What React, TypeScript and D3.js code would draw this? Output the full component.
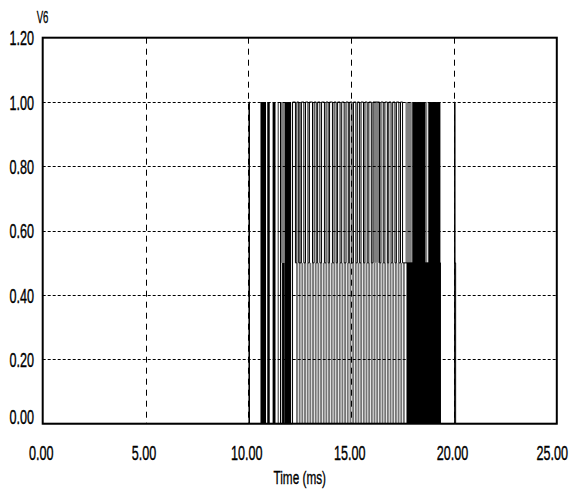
import React from 'react';
import * as d3 from 'd3';

const W = 569;
const H = 499;

const seriesName = 'V6';
const xTitle = 'Time (ms)';
const xTicks = [0, 5, 10, 15, 20, 25];
const yTicks = [0, 0.2, 0.4, 0.6, 0.8, 1.0, 1.2];

// Switching bursts too fast to resolve on this time scale: [start ms, end ms, peak V]
const solidBursts: [number, number, number][] = [
  [10.59, 10.86, 1],
  [10.92, 11.04, 1],
  [11.18, 11.32, 1],
  [11.43, 11.47, 1],
  [11.54, 11.60, 1],
  [11.64, 11.77, 0.5],
  [11.77, 12.08, 1],
  [17.69, 19.34, 0.5],
  [17.97, 18.62, 1],
  [18.75, 19.34, 1],
];

// Lower-duty switching bursts: [start ms, end ms, low V, high V]
const partialBursts: [number, number, number, number][] = [
  [11.60, 11.77, 0.5, 1],
  [12.45, 12.57, 0.5, 1],
  [16.08, 16.36, 0.5, 1],
  [17.64, 17.95, 0.5, 1],
  [18.64, 18.70, 0.5, 1],
];

// Carrier pulses between 0 and 0.5 V: [on ms, off ms]
const carrierPulses: [number, number][] = [
  [12.32, 12.41], [12.45, 12.54], [12.58, 12.67], [12.71, 12.80], [12.84, 12.93],
  [12.97, 13.06], [13.10, 13.19], [13.23, 13.32], [13.36, 13.45], [13.49, 13.58],
  [13.62, 13.71], [13.75, 13.84], [13.88, 13.97], [14.01, 14.10], [14.14, 14.23],
  [14.27, 14.36], [14.40, 14.49], [14.53, 14.62], [14.66, 14.75], [14.79, 14.88],
  [14.92, 15.01], [15.05, 15.14], [15.18, 15.27], [15.31, 15.40], [15.44, 15.53],
  [15.57, 15.66], [15.70, 15.79], [15.83, 15.92], [15.96, 16.05], [16.09, 16.18],
  [16.22, 16.31], [16.35, 16.44], [16.48, 16.57], [16.61, 16.70], [16.74, 16.83],
  [16.87, 16.96], [17.00, 17.09], [17.13, 17.22], [17.26, 17.35], [17.39, 17.48],
  [17.52, 17.61],
];

// Envelope of V6 as a step trace: [time ms, V]
const v6Trace: [number, number][] = [
  [0, 0], [10.03, 1], [10.055, 0],
  [12.15, 1], [12.29, 0.5], [12.36, 1], [12.45, 0.5], [12.58, 1], [12.70, 0.5],
  [12.78, 1], [12.90, 0.5], [12.97, 1], [13.12, 0.5], [13.20, 1], [13.30, 0.5],
  [13.37, 1], [13.48, 0.5], [13.56, 1], [13.70, 0.5], [13.78, 1], [13.88, 0.5],
  [13.95, 1], [14.09, 0.5], [14.17, 1], [14.27, 0.5], [14.34, 1], [14.46, 0.5],
  [14.54, 1], [14.66, 0.5], [14.75, 1], [14.86, 0.5], [14.93, 1], [15.04, 0.5],
  [15.11, 1], [15.23, 0.5], [15.30, 1], [15.40, 0.5], [15.48, 1], [15.60, 0.5],
  [15.67, 1], [15.78, 0.5], [15.86, 1], [15.98, 0.5], [16.06, 1], [16.38, 0.5],
  [16.45, 1], [16.56, 0.5], [16.64, 1], [16.76, 0.5], [16.83, 1], [16.94, 0.5],
  [17.02, 1], [17.13, 0.5], [17.20, 1], [17.32, 0.5], [17.40, 1], [17.50, 0.5],
  [19.34, 0],
  [20.03, 1], [20.05, 0.5], [20.08, 0], [25, 0],
];

const FONT = 'Liberation Sans, Arial, sans-serif';

export default function App() {
  const x = d3.scaleLinear().domain([0, 25]).range([42.7, 556.8]);
  const y = d3.scaleLinear().domain([0, 1.2]).range([423.7, 37.7]);
  const [x0, x1] = x.range();
  const [yb, yt] = y.range();

  const line = d3
    .line<[number, number]>()
    .x((d) => x(d[0]))
    .y((d) => y(d[1]))
    .curve(d3.curveStepAfter);

  const fmt = d3.format('.2f');

  return (
    <svg
      width={W}
      height={H}
      viewBox={`0 0 ${W} ${H}`}
      style={{ position: 'fixed', left: 0, top: 0, background: '#fff' }}
    >
      <rect x={0} y={0} width={W} height={H} fill="#fff" />

      {/* carrier switching between 0 and 0.5 V */}
      <g fill="#767676">
        {carrierPulses.map(([a, b], i) => (
          <rect key={i} x={x(a)} width={x(b) - x(a)} y={y(0.5)} height={y(0) - y(0.5)} />
        ))}
      </g>

      <g fill="#808080">
        {partialBursts.map(([a, b, lo, hi], i) => (
          <rect key={i} x={x(a)} width={x(b) - x(a)} y={y(hi)} height={y(lo) - y(hi)} />
        ))}
      </g>

      <g fill="#000">
        {solidBursts.map(([a, b, v], i) => (
          <rect key={i} x={x(a)} width={x(b) - x(a)} y={y(v)} height={y(0) - y(v)} />
        ))}
      </g>

      <path d={line(v6Trace) ?? ''} fill="none" stroke="#000" strokeWidth={1} />

      {/* grid */}
      <g stroke="#000" strokeWidth={1}>
        {yTicks
          .filter((v) => v > 0 && v < 1.2)
          .map((v) => (
            <line key={v} x1={x0} x2={x1} y1={Math.round(y(v)) + 0.5} y2={Math.round(y(v)) + 0.5} strokeDasharray="3,2" />
          ))}
        {xTicks
          .filter((t) => t > 0 && t < 25)
          .map((t) => (
            <line key={t} x1={Math.round(x(t)) + 0.5} x2={Math.round(x(t)) + 0.5} y1={yt} y2={yb} strokeDasharray="6,5" />
          ))}
      </g>

      {/* frame */}
      <rect x={x0} y={yt} width={x1 - x0} height={yb - yt} fill="none" stroke="#000" strokeWidth={2} />

      {/* tick labels */}
      <g fontFamily={FONT} fontSize={21} fill="#000" stroke="#000" strokeWidth={0.4}>
        {yTicks.map((v) => {
          const cy = Math.min(y(v), yb - 7);
          return (
            <g key={v} transform={`translate(34, ${cy + 7.5}) scale(0.6, 1)`}>
              <text textAnchor="end">{fmt(v)}</text>
            </g>
          );
        })}
        {xTicks.map((t) => {
          const label = fmt(t);
          const cx = x(t) - 1.5;
          const half = label.length * 3.2;
          const overflow = cx + half > W - 1;
          return (
            <g key={t} transform={`translate(${overflow ? W - 1 : cx}, 460) scale(0.6, 1)`}>
              <text textAnchor={overflow ? 'end' : 'middle'}>{label}</text>
            </g>
          );
        })}
      </g>

      <g transform={`translate(${(x0 + x1) / 2}, 484) scale(0.62, 1)`}>
        <text textAnchor="middle" fontFamily={FONT} fontSize={19} fill="#000" stroke="#000" strokeWidth={0.35}>
          {xTitle}
        </text>
      </g>

      <g transform="translate(36.7, 23.3) scale(0.6, 1)">
        <text fontFamily={FONT} fontSize={16} fill="#000" stroke="#000" strokeWidth={0.3}>
          {seriesName}
        </text>
      </g>
    </svg>
  );
}
